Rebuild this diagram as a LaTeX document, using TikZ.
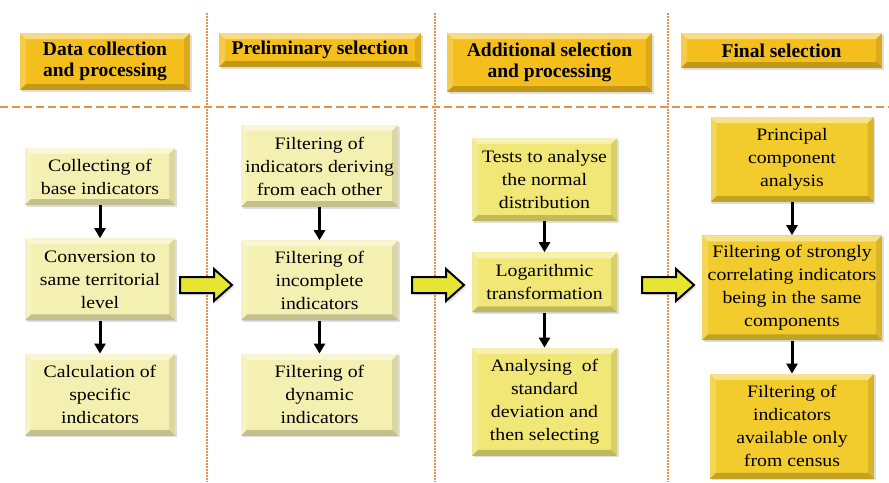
\documentclass[tikz,border=0pt]{standalone}
\usepackage{fontspec}
\setmainfont{LiberationSerif-Regular.ttf}[BoldFont=LiberationSerif-Bold.ttf]
\newfontfamily\stepfont{LiberationSerif-Regular.ttf}[FakeStretch=1.13]
\usetikzlibrary{positioning, arrows.meta, calc, shadows}

\definecolor{sepline}{HTML}{E8914A}
\definecolor{headfill}{HTML}{F4BE1C}
\definecolor{palefill}{HTML}{F4F0B2}
\definecolor{midfill}{HTML}{F0E776}
\definecolor{goldfill}{HTML}{F2CB2C}
\definecolor{fatfill}{HTML}{E6E632}

\tikzset{
  bevel/.style={path picture={
    \path (path picture bounding box.north west) coordinate (bnw)
          (path picture bounding box.south east) coordinate (bse);
    \path ($(bnw)+(#1,#1)$) coordinate (inw) ($(bse)+(-#1,-#1)$) coordinate (ise);
    \fill[white, opacity=.45] (bnw) -- (bse|-bnw) -- (ise|-inw) -- (inw) -- cycle;
    \fill[white, opacity=.2] (bnw) -- (inw) -- (inw|-ise) -- (bnw|-bse) -- cycle;
    \fill[black, opacity=.1] (bse|-bnw) -- (ise|-inw) -- (ise) -- (bse) -- cycle;
    \fill[black, opacity=.2] (bnw|-bse) -- (inw|-ise) -- (ise) -- (bse) -- cycle;
  }},
  bevel/.default=6,
  headbox/.style={fill=headfill, bevel, align=center, inner sep=0pt,
    drop shadow={shadow xshift=1.5pt, shadow yshift=-1.5pt, opacity=.25},
    font=\bfseries\fontsize{19.5}{21.5}\selectfont},
  stepbox/.style={fill=palefill, bevel, align=center, inner sep=0pt,
    drop shadow={shadow xshift=1.5pt, shadow yshift=-1.5pt, opacity=.25},
    font=\stepfont\fontsize{17.5}{23}\selectfont},
  link/.style={-{Triangle[width=11pt, length=10pt]}, line width=3pt, black},
  sepdots/.style={sepline, line width=1.8pt, dash pattern=on 1.5pt off 1.5pt},
  sepdash/.style={sepline, line width=2.8pt, dash pattern=on 8pt off 4pt},
  fatarrow/.pic={
    \draw[line width=2pt, fill=fatfill, line join=miter, drop shadow={opacity=.2}]
      (-26,-8) -- (8,-8) -- (8,-16) -- (26,0) -- (8,16) -- (8,8) -- (-26,8) -- cycle;
  }
}

\begin{document}
\begin{tikzpicture}[x=1pt, y=-1pt]
	\useasboundingbox (0,0) rectangle (889,482);
	% separators
	\draw[sepdash] (0,107) -- (889,107);
	\foreach \x in {207,435,668}
		\draw[sepdots] (\x,13) -- (\x,482);
	
	% stage headers
	\node[headbox, minimum width=170, minimum height=57] (h1) at (105,61.5) {Data collection\\and processing};
	\node[headbox, minimum width=202, minimum height=34] (h2) at (320,50) {Preliminary selection};
	\node[headbox, minimum width=205, minimum height=59] (h3) at (549.5,62.5) {Additional selection\\and processing};
	\node[headbox, minimum width=201, minimum height=35] (h4) at (781.5,50.5) {Final selection};
	
	% data collection
	\node[stepbox, minimum width=150, minimum height=57] (b11) at (100,176.5) {Collecting of\\base indicators};
	\node[stepbox, minimum width=150, minimum height=82, below=33pt of b11] (b12) {Conversion to\\same territorial\\level};
	\node[stepbox, minimum width=150, minimum height=82, below=33pt of b12] (b13) {Calculation of\\specific\\indicators};
	
	% preliminary selection
	\node[stepbox, minimum width=157, minimum height=82] (b21) at (319.5,166) {Filtering of\\indicators deriving\\from each other};
	\node[stepbox, minimum width=157, minimum height=80, below=33pt of b21] (b22) {Filtering of\\incomplete\\indicators};
	\node[stepbox, minimum width=157, minimum height=82, below=33pt of b22] (b23) {Filtering of\\dynamic\\indicators};
	
	% additional selection
	\node[stepbox, fill=midfill, minimum width=145, minimum height=83] (b31) at (544.5,179.5) {Tests to analyse\\the normal\\distribution};
	\node[stepbox, fill=midfill, minimum width=145, minimum height=60, below=31pt of b31] (b32) {Logarithmic\\transformation};
	\node[stepbox, fill=midfill, minimum width=145, minimum height=108, below=35pt of b32] (b33) {Analysing \ of\\standard\\deviation and\\then selecting};
	
	% final selection
	\node[stepbox, fill=goldfill, minimum width=163, minimum height=85] (b41) at (792,159.5) {Principal\\component\\analysis};
	\node[stepbox, fill=goldfill, minimum width=180, minimum height=105, below=33pt of b41] (b42) {Filtering of strongly\\correlating indicators\\being in the same\\components};
	\node[stepbox, fill=goldfill, minimum width=164, minimum height=105, below=33pt of b42] (b43) {Filtering of\\indicators\\available only\\from census};
	
	% steps
	\draw[link] (b11) -- (b12);
	\draw[link] (b12) -- (b13);
	\draw[link] (b21) -- (b22);
	\draw[link] (b22) -- (b23);
	\draw[link] (b31) -- (b32);
	\draw[link] (b32) -- (b33);
	\draw[link] (b41) -- (b42);
	\draw[link] (b42) -- (b43);
	
	% between stages
	\coordinate (m1) at (206,285);
	\coordinate (m2) at (438,285);
	\coordinate (m3) at (668,285);
	\foreach \m in {m1,m2,m3}
		\pic at (\m) {fatarrow};
\end{tikzpicture}
\end{document}
